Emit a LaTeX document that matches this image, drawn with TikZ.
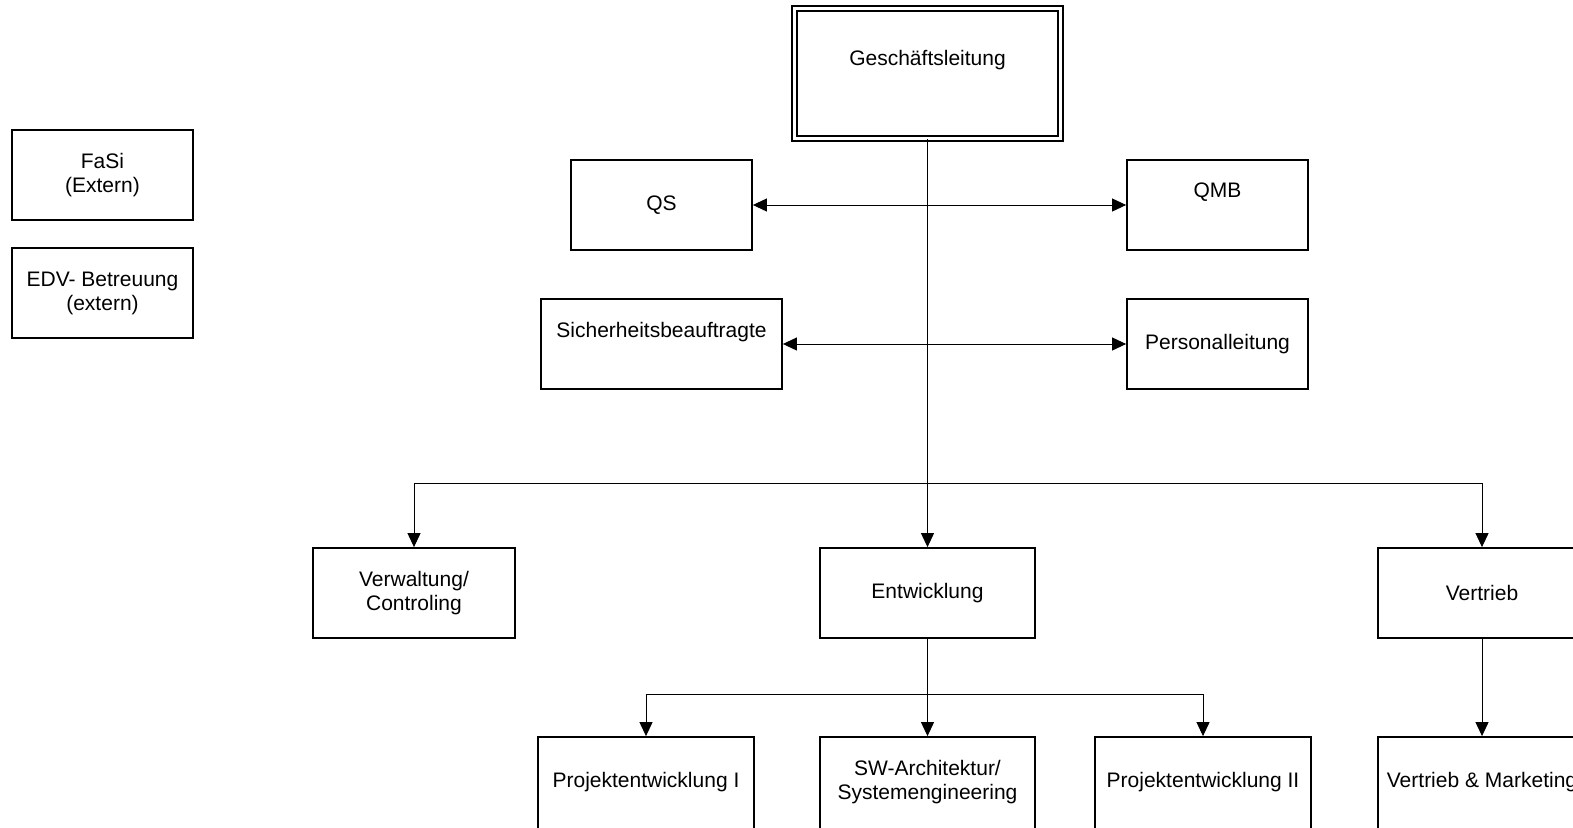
\documentclass[tikz,border=0pt]{standalone}
\usepackage{fontspec}
\setmainfont{Liberation Sans}
\usetikzlibrary{arrows.meta, positioning}
\definecolor{boxline}{RGB}{0,0,0}

\begin{document}
\begin{tikzpicture}[x=1pt, y=-1pt, font=\fontsize{21}{24}\selectfont,
    box/.style={draw=boxline, line width=1.8pt, minimum height=90pt, align=center, inner sep=0pt},
    lowbox/.style={box, minimum height=110pt},
    conn/.style={draw=boxline, line width=1pt},
    arr/.style={conn, -{Triangle[length=14pt, width=13pt]}},
    twoway/.style={conn, {Triangle[length=14pt, width=13pt]}-{Triangle[length=14pt, width=13pt]}}]
        \useasboundingbox (0,0) rectangle (1573,827);
        \clip (0,0) rectangle (1573,827);

        % External services
        \node[box, minimum width=181pt] (fasi) at (102.5,175) {FaSi\\(Extern)};
        \node[box, minimum width=181pt] (edv) at (102.5,293) {EDV- Betreuung\\(extern)};

        % Management
        \node[box, double, double distance=3.2pt, line width=1.6pt, minimum width=266pt, minimum height=130pt,
              label={[yshift=13pt]center:Geschäftsleitung}] (ges) at (927.5,73.5) {};

        % Staff positions
        \node[box, minimum width=181pt] (qs) at (661.5,205) {QS};
        \node[box, minimum width=181pt, label={[yshift=13pt]center:QMB}] (qmb) at (1217.5,205) {};
        \node[box, minimum width=241pt, label={[yshift=12pt]center:Sicherheitsbeauftragte}] (sich) at (661.5,344) {};
        \node[box, minimum width=181pt] (pers) at (1217.5,344) {Personalleitung};

        % Departments
        \node[box, minimum width=202pt] (verw) at (414,593) {Verwaltung/\\Controling};
        \node[box, minimum width=215pt] (entw) at (927.5,593) {Entwicklung};
        \node[box, minimum width=208pt] (vert) at (1482,593) {Vertrieb};

        % Teams (cut off by the lower edge)
        \node[lowbox, minimum width=216pt, label={[yshift=10pt, align=center]center:Projektentwicklung I}] (pe1) at (646,792) {};
        \node[lowbox, minimum width=215pt, label={[yshift=10pt, align=center]center:SW-Architektur/\\Systemengineering}] (sw) at (927.5,792) {};
        \node[lowbox, minimum width=216pt, label={[yshift=10pt, align=center]center:Projektentwicklung II}] (pe2) at (1203,792) {};
        \node[lowbox, minimum width=208pt, label={[yshift=10pt, align=center]center:Vertrieb \& Marketing}] (vm) at (1482,792) {};

        % Connectors
        \coordinate (bus) at (927.5,483);
        \coordinate (bus2) at (927.5,694);
        \draw[arr] (ges) -- (entw);
        \draw[twoway] (qs) -- (qmb);
        \draw[twoway] (sich) -- (pers);
        \draw[arr] (bus) -| (verw);
        \draw[arr] (bus) -| (vert);
        \draw[arr] (entw) -- (sw);
        \draw[arr] (bus2) -| (pe1);
        \draw[arr] (bus2) -| (pe2);
        \draw[arr] (vert) -- (vm);
\end{tikzpicture}
\end{document}
